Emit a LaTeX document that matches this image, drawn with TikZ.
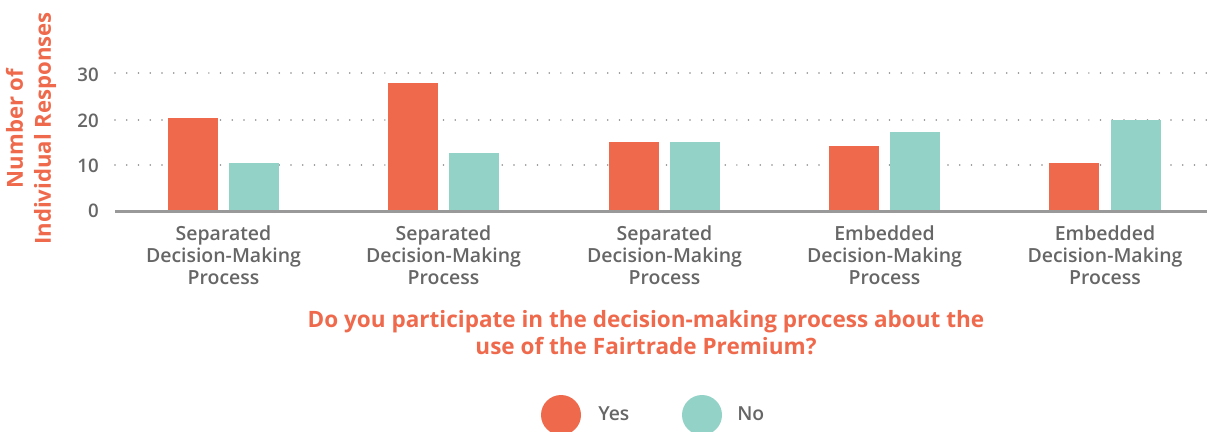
\documentclass[tikz,border=0pt]{standalone}
\usepackage{fontspec}
\setmainfont{Open Sans}
\newfontfamily\semib{Open Sans Semibold}
\definecolor{yesc}{HTML}{EF6A4C}
\definecolor{noc}{HTML}{93D2C6}
\definecolor{txtc}{HTML}{666666}
\definecolor{gridc}{HTML}{8A8A8A}
\definecolor{axisc}{HTML}{999999}
\tikzset{
  yesbar/.style={fill=yesc, draw=none},
  nobar/.style={fill=noc, draw=none},
  gridline/.style={gridc, line width=1.3pt, line cap=round, dash pattern=on 0pt off 8.8pt},
  ticklab/.style={anchor=east, inner sep=0pt, text=txtc, font=\semib\fontsize{14}{16}\selectfont},
  catlab/.style={anchor=north, inner sep=0pt, align=center, text=txtc, font=\semib\fontsize{14.6}{16.5}\selectfont},
  titlelab/.style={inner sep=0pt, align=center, text=yesc, font=\bfseries\fontsize{16.9}{20}\selectfont},
  leglab/.style={anchor=west, inner sep=0pt, text=txtc, font=\semib\fontsize{14.5}{16}\selectfont},
}
\begin{document}
\begin{tikzpicture}[x=0.75pt, y=-0.75pt]
\useasboundingbox (0,0) rectangle (1207,432);
% grid
\foreach \g/\yy in {g30/73, g20/120, g10/165} {
  \coordinate (\g a) at (115,\yy);
  \coordinate (\g b) at (1207,\yy);
  \draw[gridline] (\g a) -- (\g b);
}
% tick labels
\node[ticklab] (t30) at (99,75) {30};
\node[ticklab] (t20) at (99,121) {20};
\node[ticklab] (t10) at (99,166) {10};
\node[ticklab] (t0) at (99,211) {0};
% bars
\fill[yesbar] (168,211) rectangle (218,118);
\fill[nobar]  (229,211) rectangle (279,163);
\fill[yesbar] (388,211) rectangle (438,83);
\fill[nobar]  (449,211) rectangle (499,153);
\fill[yesbar] (609,211) rectangle (659,142);
\fill[nobar]  (670,211) rectangle (720,142);
\fill[yesbar] (829,211) rectangle (879,146);
\fill[nobar]  (890,211) rectangle (940,132);
\fill[yesbar] (1049,211) rectangle (1099,163);
\fill[nobar]  (1111,211) rectangle (1161,120);
% axis
\coordinate (axl) at (115,211.5);
\coordinate (axr) at (1207,211.5);
\draw[axisc, line width=1.6pt] (axl) -- (axr);
% category labels
\node[catlab] (c1) at (223.5,225) {Separated\\Decision-Making\\Process};
\node[catlab] (c2) at (443.5,225) {Separated\\Decision-Making\\Process};
\node[catlab] (c3) at (664.5,225) {Separated\\Decision-Making\\Process};
\node[catlab] (c4) at (884.5,225) {Embedded\\Decision-Making\\Process};
\node[catlab] (c5) at (1105,225) {Embedded\\Decision-Making\\Process};
% y axis title
\node[titlelab, rotate=90, font=\bfseries\fontsize{16.6}{21}\selectfont] (ylab) at (31,128.5) {Number of\\Individual Responses};
% x axis title
\node[titlelab] (xlab) at (646,332.5) {Do you participate in the decision-making process about the\\use of the Fairtrade Premium?};
% legend
\fill[yesc] (561,415) circle[radius=20];
\node[leglab] (lyes) at (598,414) {Yes};
\fill[noc] (702,415) circle[radius=20];
\node[leglab] (lno) at (737,414) {No};
\end{tikzpicture}
\end{document}
